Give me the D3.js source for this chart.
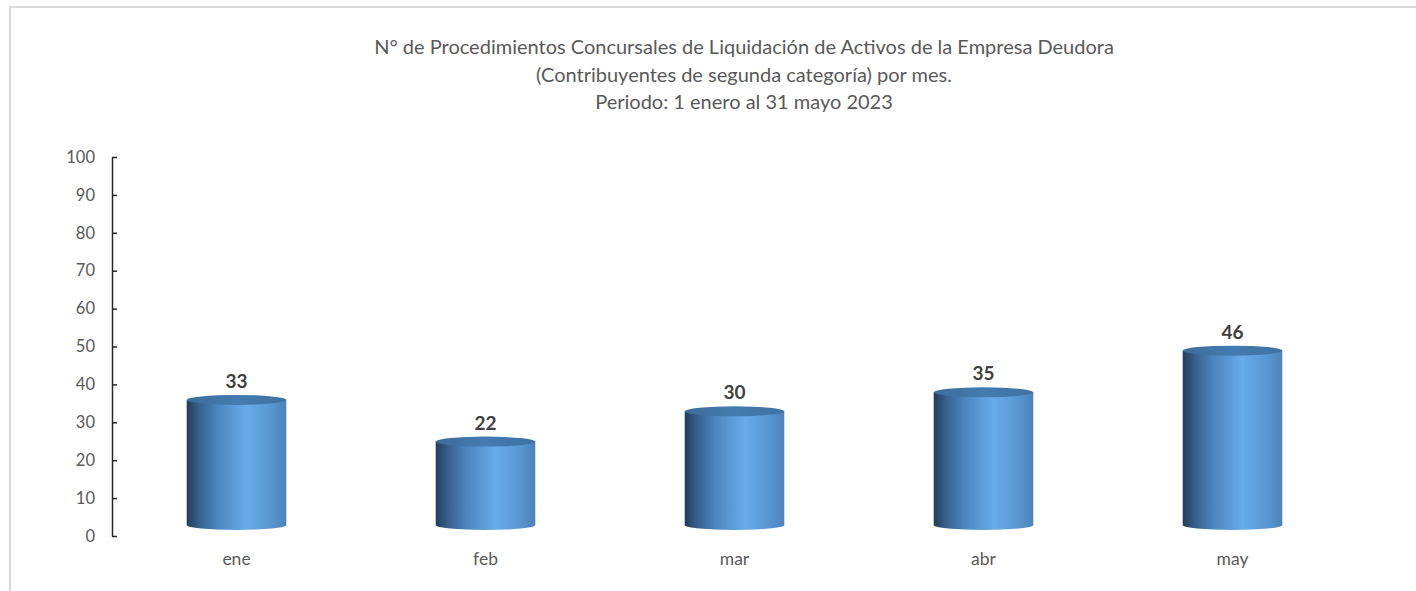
<!DOCTYPE html>
<html>
<head>
<meta charset="utf-8">
<script src="https://cdn.jsdelivr.net/npm/d3@7"></script>
<style>
  body { margin: 0; background: #fff; }
  text { font-family: Lato, "Open Sans", sans-serif; }
</style>
</head>
<body>
<div id="chart"></div>
<script>
// data
const months = ["ene", "feb", "mar", "abr", "may"];
const values = [33, 22, 30, 35, 46];
const yTicks = [0, 10, 20, 30, 40, 50, 60, 70, 80, 90, 100];
const titleLines = [
    "N° de Procedimientos Concursales de Liquidación de Activos de la Empresa Deudora",
    "(Contribuyentes de segunda categoría) por mes.",
    "Periodo: 1 enero al 31 mayo 2023"
];

const W = 1416, H = 591;
const svg = d3.select("#chart")
    .append("svg")
    .attr("width", W)
    .attr("height", H);

// outer frame
svg.append("path")
    .attr("d", `M10,${H} L10,7 L${W},7`)
    .attr("fill", "none")
    .attr("stroke", "#d9d9d9")
    .attr("stroke-width", 2);

// title
svg.append("g").selectAll("text")
    .data(titleLines)
    .enter().append("text")
    .attr("x", 744)
    .attr("y", (d, i) => 54 + i * 27.5)
    .attr("text-anchor", "middle")
    .attr("font-size", 20)
    .attr("fill", "#595959")
    .text(d => d);

const x = d3.scaleBand()
    .domain(months)
    .range([112, 1357])
    .paddingInner(0.6)
    .paddingOuter(0.3);

const y = d3.scaleLinear()
    .domain([0, 100])
    .range([536, 157]);

// y axis, ticks pointing inwards
const yAxis = svg.append("g")
    .attr("transform", "translate(112,0)")
    .call(d3.axisRight(y).tickValues(yTicks).tickSize(5).tickSizeOuter(0));
yAxis.select(".domain").attr("stroke", "#262626").attr("stroke-width", 1.5);
yAxis.selectAll(".tick line").attr("stroke", "#262626").attr("stroke-width", 1.5);
yAxis.selectAll(".tick text")
    .attr("x", -17)
    .attr("text-anchor", "end")
    .attr("font-size", 16.5)
    .attr("font-family", "Lato, sans-serif")
    .attr("fill", "#595959");

// category labels
svg.append("g").selectAll("text")
    .data(months)
    .enter().append("text")
    .attr("x", d => x(d) + x.bandwidth() / 2)
    .attr("y", 565)
    .attr("text-anchor", "middle")
    .attr("font-size", 17.5)
    .attr("fill", "#595959")
    .text(d => d);

// cylinder shading
const defs = svg.append("defs");
const bodyGrad = defs.append("linearGradient").attr("id", "cylBody")
    .attr("x1", "0%").attr("x2", "100%").attr("y1", "0%").attr("y2", "0%");
[[0, "#213d58"], [0.12, "#365f8a"], [0.3, "#4b84be"], [0.6, "#67abe9"], [0.85, "#5896d1"], [1, "#4c82b8"]]
    .forEach(s => bodyGrad.append("stop").attr("offset", s[0]).attr("stop-color", s[1]));
const capGrad = defs.append("linearGradient").attr("id", "cylTop")
    .attr("x1", "0%").attr("x2", "100%").attr("y1", "0%").attr("y2", "0%");
[[0, "#3c6c9a"], [0.5, "#447bb0"], [1, "#3f71a3"]]
    .forEach(s => capGrad.append("stop").attr("offset", s[0]).attr("stop-color", s[1]));

const depth = 11, ry = 5;
const data = months.map((m, i) => ({ month: m, value: values[i] }));

const bars = svg.append("g").selectAll("g")
    .data(data)
    .enter().append("g");

bars.append("path")
    .attr("fill", "url(#cylBody)")
    .attr("d", d => {
        const x0 = x(d.month), x1 = x0 + x.bandwidth(), rx = x.bandwidth() / 2;
        const yt = y(d.value) - depth, yb = y(0) - depth;
        return `M${x0},${yt} L${x0},${yb} A${rx},${ry} 0 0 0 ${x1},${yb} L${x1},${yt} Z`;
    });

bars.append("ellipse")
    .attr("cx", d => x(d.month) + x.bandwidth() / 2)
    .attr("cy", d => y(d.value) - depth)
    .attr("rx", x.bandwidth() / 2)
    .attr("ry", ry)
    .attr("fill", "url(#cylTop)");

bars.append("text")
    .attr("x", d => x(d.month) + x.bandwidth() / 2)
    .attr("y", d => y(d.value) - depth - 12)
    .attr("text-anchor", "middle")
    .attr("font-size", 19)
    .attr("font-weight", "bold")
    .attr("fill", "#404040")
    .text(d => d.value);
</script>
</body>
</html>
